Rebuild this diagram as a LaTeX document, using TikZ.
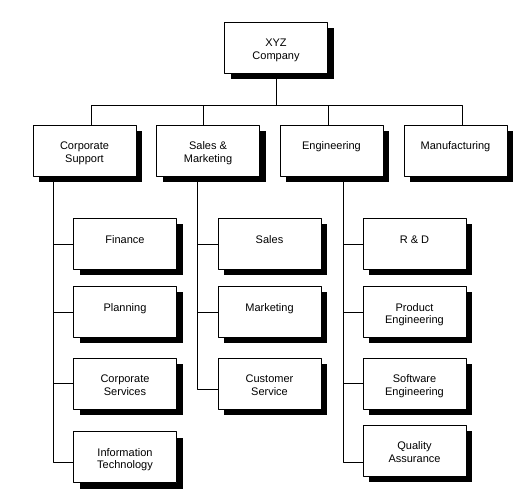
\documentclass[tikz,border=0pt]{standalone}
\usepackage{fontspec}
\setmainfont{Liberation Sans}
\usetikzlibrary{shadows}
\newcommand\boxtext[1]{\parbox[c][51pt][t]{100pt}{\centering\vspace*{16pt}\strut #1\strut}}
\tikzset{
  unit/.style={draw, fill=white, line width=0.8pt, minimum width=103pt, minimum height=51pt,
    inner sep=0pt, font=\fontsize{11}{12.5}\selectfont,
    drop shadow={shadow xshift=6pt, shadow yshift=-6pt, fill=black, opacity=1}},
  link/.style={line width=0.8pt}
}
\begin{document}
\begin{tikzpicture}[x=1pt, y=1pt, line join=round]
  \useasboundingbox (0,0) rectangle (522,501);
  \def\ybus{396}
  % top and second level
  \node[unit] (xyz) at (276,453.5) {\boxtext{XYZ\\Company}};
  \node[unit] (corp) at (84.5,350.5) {\boxtext{Corporate\\Support}};
  \node[unit] (sales) at (208,350.5) {\boxtext{Sales \&\\Marketing}};
  \node[unit] (eng) at (331.5,350.5) {\boxtext{Engineering}};
  \node[unit] (manu) at (455.5,350.5) {\boxtext{Manufacturing}};
  % corporate support units
  \node[unit] (fin) at (125,257) {\boxtext{Finance}};
  \node[unit] (plan) at (125,189) {\boxtext{Planning}};
  \node[unit] (csrv) at (125,117.5) {\boxtext{Corporate\\Services}};
  \node[unit] (it) at (125,44) {\boxtext{Information\\Technology}};
  % sales and marketing units
  \node[unit] (sal) at (269.5,257) {\boxtext{Sales}};
  \node[unit] (mkt) at (269.5,189) {\boxtext{Marketing}};
  \node[unit] (cust) at (269.5,117.5) {\boxtext{Customer\\Service}};
  % engineering units
  \node[unit] (rd) at (414.5,257) {\boxtext{R \& D}};
  \node[unit] (prod) at (414.5,189) {\boxtext{Product\\Engineering}};
  \node[unit] (soft) at (414.5,117.5) {\boxtext{Software\\Engineering}};
  \node[unit] (qa) at (414.5,50.5) {\boxtext{Quality\\Assurance}};
  % bus under the company
  \coordinate (busl) at (91,\ybus);
  \coordinate (busr) at (462,\ybus);
  \draw[link] (xyz.south) -- (xyz.south |- busl);
  \draw[link] ([xshift=6.5pt]corp.north) |- (busr) -- ([xshift=6.5pt]manu.north);
  \draw[link] ([xshift=-5pt]sales.north) -- ([xshift=-5pt]sales.north |- busl);
  \draw[link] ([xshift=-3.5pt]eng.north) -- ([xshift=-3.5pt]eng.north |- busl);
  % spines down the columns
  \coordinate (cspine) at ([xshift=-31.5pt]corp.south);
  \coordinate (sspine) at ([xshift=-11pt]sales.south);
  \coordinate (espine) at ([xshift=11.5pt]eng.south);
  \draw[link] (cspine) |- ([yshift=-5pt]it.west);
  \foreach \u in {fin,plan,csrv}
    \draw[link] (\u.west) -- (\u.west -| cspine);
  \draw[link] (sspine) |- ([yshift=-5.5pt]cust.west);
  \foreach \u in {sal,mkt}
    \draw[link] (\u.west) -- (\u.west -| sspine);
  \draw[link] (espine) |- ([yshift=-11.5pt]qa.west);
  \foreach \u in {rd,prod,soft}
    \draw[link] (\u.west) -- (\u.west -| espine);
\end{tikzpicture}
\end{document}
